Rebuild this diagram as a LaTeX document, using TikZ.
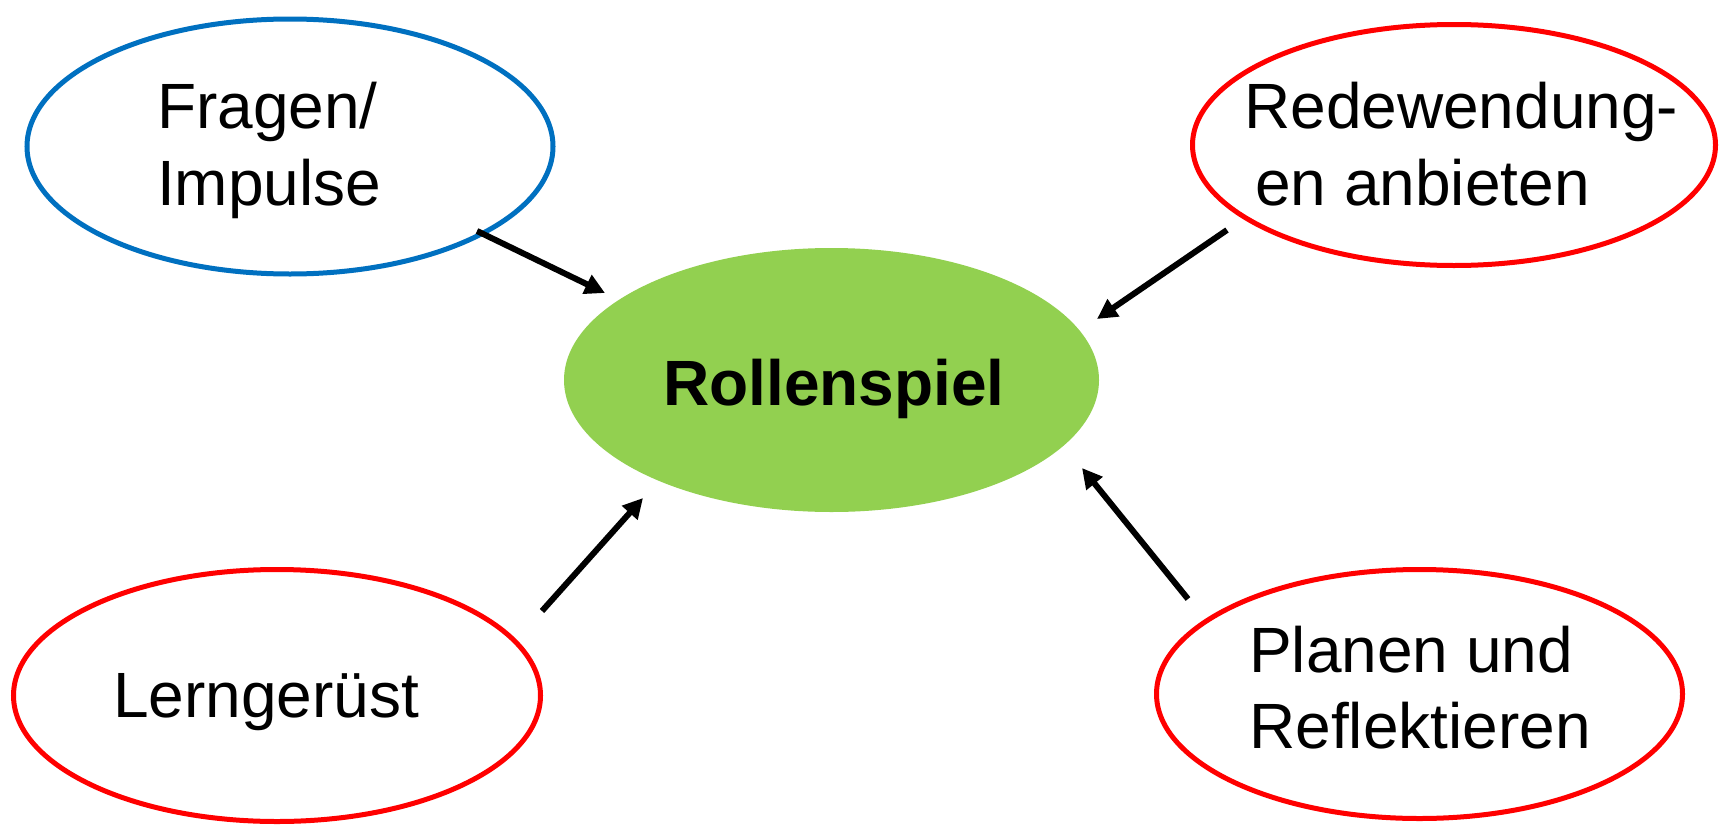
\documentclass[tikz,border=0pt]{standalone}
\usepackage{fontspec}
\setmainfont{Liberation Sans}
\usetikzlibrary{arrows.meta,shapes.geometric}
\definecolor{blueline}{HTML}{0070C0}
\definecolor{redline}{HTML}{FF0000}
\definecolor{greenfill}{HTML}{92D050}
\begin{document}
\begin{tikzpicture}[x=1pt,y=-1pt,
  bubble/.style={ellipse, draw, line width=5pt, fill=white, inner sep=0pt},
  lbl/.style={anchor=base west, inner sep=0pt, font=\fontsize{64}{77}\selectfont},
  link/.style={line width=6pt, -{Triangle[length=20pt,width=20pt]}}]
\useasboundingbox (0,0) rectangle (1727,827);
% ellipses
\node[bubble, draw=blueline, minimum width=526pt, minimum height=255pt] (fragen) at (290,146.5) {};
\node[bubble, draw=redline, minimum width=523pt, minimum height=241pt] (rede) at (1454,145) {};
\node[ellipse, fill=greenfill, inner sep=0pt, minimum width=535pt, minimum height=264pt] (rolle) at (831.5,380) {};
\node[bubble, draw=redline, minimum width=527pt, minimum height=252pt] (lern) at (277,695.5) {};
\node[bubble, draw=redline, minimum width=526pt, minimum height=249pt] (plan) at (1419.5,694) {};
% texts
\node[lbl] (fragenA) at (157,128) {Fragen/};
\node[lbl] (fragenB) at (157,205) {Impulse};
\node[lbl] (redeA) at (1244,128) {Redewendung-};
\node[lbl] (redeB) at (1255,205) {en anbieten};
\node[lbl, anchor=base, font=\fontsize{64}{77}\selectfont\bfseries] (rolleT) at (834,405) {Rollenspiel};
\node[lbl] (lernT) at (113,717) {Lerngerüst};
\node[lbl] (planA) at (1249,672) {Planen und};
\node[lbl] (planB) at (1249,748) {Reflektieren};
% arrow end points
\coordinate (a1s) at (477,231);
\coordinate (a1e) at (605,293);
\coordinate (a2s) at (1227,230);
\coordinate (a2e) at (1097,319);
\coordinate (a3s) at (542,611);
\coordinate (a3e) at (643,498);
\coordinate (a4s) at (1188,599);
\coordinate (a4e) at (1082,468);
\draw[link] (a1s) -- (a1e);
\draw[link] (a2s) -- (a2e);
\draw[link] (a3s) -- (a3e);
\draw[link] (a4s) -- (a4e);
\end{tikzpicture}
\end{document}
